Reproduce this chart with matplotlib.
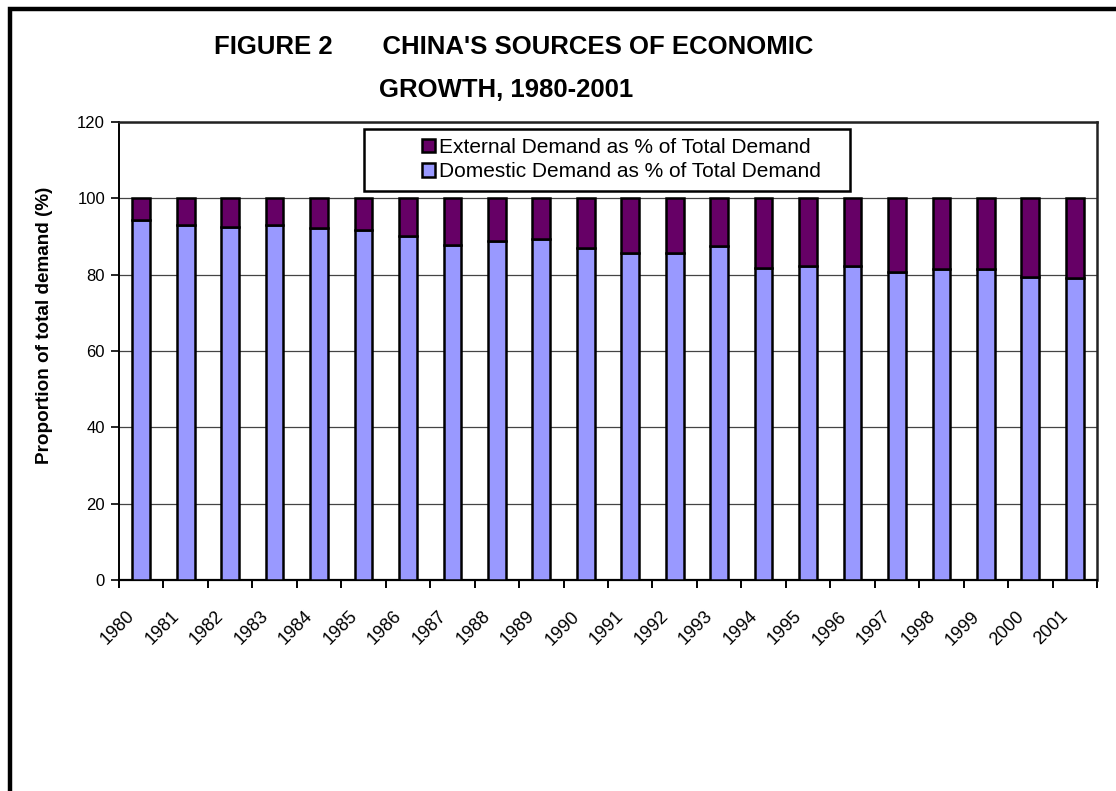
import matplotlib
matplotlib.use("Agg")
import matplotlib.pyplot as plt
import matplotlib.transforms as mtransforms
import numpy as np
from matplotlib.patches import Rectangle
from matplotlib.ticker import FixedLocator

plt.rcParams['font.family'] = ['Liberation Sans', 'DejaVu Sans']

years = [str(y) for y in range(1980, 2002)]
domestic = [94.3, 92.9, 92.4, 92.9, 92.2, 91.6, 90.2, 87.8, 88.8, 89.3, 86.9,
            85.6, 85.6, 87.6, 81.7, 82.3, 82.2, 80.6, 81.6, 81.6, 79.4, 79.0]
external = [100 - d for d in domestic]
yticks = [0, 20, 40, 60, 80, 100, 120]

W, H = 1116, 791
fig = plt.figure(figsize=(W / 100, H / 100), dpi=100)
fig.patch.set_facecolor('white')

# outer chart border (only top and left visible)
fig.add_artist(Rectangle((9.5 / W, -0.1), 1.2, 1.1 - 9.5 / H, transform=fig.transFigure,
                         fill=False, edgecolor='black', linewidth=3.2))

ax = fig.add_axes([119 / W, 1 - 580 / H, (1097 - 119) / W, (580 - 122) / H])
x = np.arange(len(years))
bw = 0.40
ax.bar(x, domestic, width=bw, color='#9999FF', edgecolor='black', linewidth=1.8,
       label='Domestic Demand as % of Total Demand', zorder=3)
ax.bar(x, external, bottom=domestic, width=bw, color='#660066', edgecolor='black',
       linewidth=1.8, label='External Demand as % of Total Demand', zorder=3)

ax.set_xlim(-0.5, len(years) - 0.5)
ax.set_ylim(0, 120)
ax.set_yticks(yticks)
ax.set_yticklabels([str(t) for t in yticks], fontsize=12)
ax.yaxis.grid(True, color='#444444', linewidth=0.9, zorder=0)
ax.tick_params(axis='y', direction='out', length=6, width=1.2, pad=4)

ax.set_xticks(x)
ax.set_xticklabels(years, fontsize=13, rotation=45, ha='right', va='top',
                   rotation_mode='anchor')
ax.tick_params(axis='x', which='major', length=0, pad=20)
ax.xaxis.set_minor_locator(FixedLocator(np.arange(-0.5, len(years), 1.0)))
ax.tick_params(axis='x', which='minor', direction='out', length=6, width=1.4)
offset = mtransforms.ScaledTranslation(-15 / 100, 0, fig.dpi_scale_trans)
for lab in ax.get_xticklabels():
    lab.set_transform(lab.get_transform() + offset)

for side in ['top', 'right']:
    ax.spines[side].set_color('#222222')
    ax.spines[side].set_linewidth(1.8)
ax.spines['left'].set_linewidth(1.4)
ax.spines['bottom'].set_linewidth(1.6)

fig.text(45 / W, 1 - 325 / H, 'Proportion of total demand (%)', rotation=90,
         fontsize=13.6, fontweight='bold', ha='center', va='center')

fig.text(514 / W, 1 - 47 / H, "FIGURE 2       CHINA'S SOURCES OF ECONOMIC",
         fontsize=18.5, fontweight='bold', ha='center', va='center')
fig.text(506 / W, 1 - 90 / H, "GROWTH, 1980-2001",
         fontsize=18.5, fontweight='bold', ha='center', va='center')

# legend box
fig.add_artist(Rectangle((364 / W, 1 - 191 / H), (850 - 364) / W, (191 - 129) / H,
                         transform=fig.transFigure, facecolor='white', edgecolor='black',
                         linewidth=1.8, zorder=5))
handles, labels = ax.get_legend_handles_labels()
leg = fig.legend(handles[::-1], labels[::-1], loc='upper left',
                 bbox_to_anchor=(422 / W, 1 - 138 / H), frameon=False, fontsize=15,
                 handlelength=0.62, handleheight=0.62, handletextpad=0.18,
                 labelspacing=0.25, borderpad=0.0, borderaxespad=0.0)
leg.set_zorder(6)

fig.savefig('out.png', dpi=100)
